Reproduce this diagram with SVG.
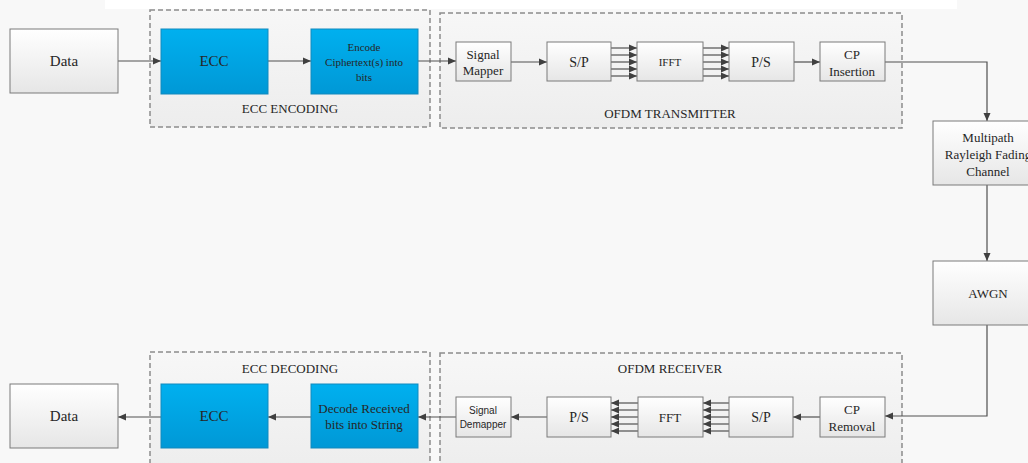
<svg xmlns="http://www.w3.org/2000/svg" width="1028" height="463" viewBox="0 0 1028 463">
<defs>
<linearGradient id="gw" x1="0" y1="0" x2="0" y2="1"><stop offset="0" stop-color="#ffffff"/><stop offset="1" stop-color="#e6e6e6"/></linearGradient>
<linearGradient id="gb" x1="0" y1="0" x2="0" y2="1"><stop offset="0" stop-color="#00b0ef"/><stop offset="1" stop-color="#0098d6"/></linearGradient>
<linearGradient id="gg" x1="0" y1="0" x2="0" y2="1"><stop offset="0" stop-color="#f7f7f7"/><stop offset="1" stop-color="#ededed"/></linearGradient>
<marker id="ah" viewBox="0 0 8 8" refX="8" refY="4" markerWidth="8" markerHeight="8" markerUnits="userSpaceOnUse" orient="auto"><path d="M0,0.5 L8,4 L0,7.5 Z" fill="#404040"/></marker>
</defs>
<style>
.box{fill:url(#gw);stroke:#7a7a7a;stroke-width:1}
.blue{fill:url(#gb);stroke:#1289bd;stroke-width:1}
.grp{fill:url(#gg);stroke:#8c8c8c;stroke-width:1.5;stroke-dasharray:5 3}
.arr{fill:none;stroke:#505050;stroke-width:1.2;marker-end:url(#ah)}
text{font-family:"Liberation Serif","Times New Roman",serif;fill:#262626;text-anchor:middle;dominant-baseline:central}
.t15{font-size:15px}
.t14{font-size:14px}
.t13{font-size:13px}
.t11{font-size:11px}
.sans{font-family:"Liberation Sans",Arial,sans-serif;font-size:10px}
</style>
<rect x="0" y="0" width="1028" height="463" fill="#f8f8f8"/>
<rect x="105" y="0" width="852" height="9" fill="#ffffff"/>

<g id="grp-ecc-encoding">
<rect class="grp" x="150" y="10" width="280" height="117"/>
<text class="t13" x="290" y="108">ECC ENCODING</text>
</g>
<g id="grp-ofdm-tx">
<rect class="grp" x="440" y="13" width="462" height="115"/>
<text class="t13" x="670" y="113">OFDM TRANSMITTER</text>
</g>
<g id="grp-ecc-decoding">
<rect class="grp" x="150" y="352" width="280" height="120"/>
<text class="t13" x="290" y="368">ECC DECODING</text>
</g>
<g id="grp-ofdm-rx">
<rect class="grp" x="440" y="353" width="462" height="120"/>
<text class="t13" x="670" y="368">OFDM RECEIVER</text>
</g>

<g id="connectors">
<line class="arr" x1="118" y1="61" x2="161" y2="61"/>
<line class="arr" x1="268" y1="61" x2="311" y2="61"/>
<line class="arr" x1="418" y1="61" x2="456" y2="61"/>
<line class="arr" x1="511" y1="62" x2="547" y2="62"/>
<line class="arr" x1="611" y1="48" x2="637" y2="48"/>
<line class="arr" x1="611" y1="55" x2="637" y2="55"/>
<line class="arr" x1="611" y1="62" x2="637" y2="62"/>
<line class="arr" x1="611" y1="69" x2="637" y2="69"/>
<line class="arr" x1="611" y1="76" x2="637" y2="76"/>
<line class="arr" x1="703" y1="48" x2="729" y2="48"/>
<line class="arr" x1="703" y1="55" x2="729" y2="55"/>
<line class="arr" x1="703" y1="62" x2="729" y2="62"/>
<line class="arr" x1="703" y1="69" x2="729" y2="69"/>
<line class="arr" x1="703" y1="76" x2="729" y2="76"/>
<line class="arr" x1="794" y1="62" x2="820" y2="62"/>
<polyline class="arr" points="885,62 987,62 987,121"/>
<line class="arr" x1="987" y1="185" x2="987" y2="261"/>
<polyline class="arr" points="987,325 987,416 885,416"/>
<line class="arr" x1="820" y1="417" x2="793" y2="417"/>
<line class="arr" x1="729" y1="403" x2="703" y2="403"/>
<line class="arr" x1="729" y1="410" x2="703" y2="410"/>
<line class="arr" x1="729" y1="417" x2="703" y2="417"/>
<line class="arr" x1="729" y1="424" x2="703" y2="424"/>
<line class="arr" x1="729" y1="431" x2="703" y2="431"/>
<line class="arr" x1="638" y1="403" x2="611" y2="403"/>
<line class="arr" x1="638" y1="410" x2="611" y2="410"/>
<line class="arr" x1="638" y1="417" x2="611" y2="417"/>
<line class="arr" x1="638" y1="424" x2="611" y2="424"/>
<line class="arr" x1="638" y1="431" x2="611" y2="431"/>
<line class="arr" x1="547" y1="417" x2="511" y2="417"/>
<line class="arr" x1="456" y1="417" x2="418" y2="417"/>
<line class="arr" x1="311" y1="417" x2="268" y2="417"/>
<line class="arr" x1="161" y1="417" x2="118" y2="417"/>
</g>

<g id="data-in"><rect class="box" x="10" y="29" width="108" height="64"/><text class="t15" x="64" y="61">Data</text></g>
<g id="ecc-enc"><rect class="blue" x="161" y="29" width="107" height="65"/><text class="t15" x="214" y="61">ECC</text></g>
<g id="encode"><rect class="blue" x="311" y="29" width="107" height="65"/>
<text class="t11" x="364" y="47">Encode</text><text class="t11" x="364" y="62">Ciphertext(s) into</text><text class="t11" x="364" y="77">bits</text></g>
<g id="signal-mapper"><rect class="box" x="456" y="42" width="55" height="39"/><text class="t13" x="483" y="54">Signal</text><text class="t13" x="483" y="70">Mapper</text></g>
<g id="sp-tx"><rect class="box" x="547" y="42" width="64" height="39"/><text class="t14" x="579" y="62">S/P</text></g>
<g id="ifft"><rect class="box" x="637" y="42" width="66" height="39"/><text class="t11" x="670" y="62">IFFT</text></g>
<g id="ps-tx"><rect class="box" x="729" y="42" width="65" height="39"/><text class="t14" x="761" y="62">P/S</text></g>
<g id="cp-insertion"><rect class="box" x="820" y="42" width="65" height="39"/><text class="t13" x="852" y="54">CP</text><text class="t13" x="852" y="71">Insertion</text></g>
<g id="channel"><rect class="box" x="933" y="121" width="110" height="64"/>
<text class="t13" x="988" y="137">Multipath</text><text class="t13" x="988" y="154">Rayleigh Fading</text><text class="t13" x="988" y="171">Channel</text></g>
<g id="awgn"><rect class="box" x="933" y="261" width="110" height="64"/><text class="t13" x="988" y="293">AWGN</text></g>
<g id="cp-removal"><rect class="box" x="820" y="397" width="65" height="40"/><text class="t13" x="852" y="409">CP</text><text class="t13" x="852" y="426">Removal</text></g>
<g id="sp-rx"><rect class="box" x="729" y="397" width="64" height="40"/><text class="t14" x="761" y="417">S/P</text></g>
<g id="fft"><rect class="box" x="638" y="397" width="65" height="40"/><text class="t13" x="670" y="417">FFT</text></g>
<g id="ps-rx"><rect class="box" x="547" y="397" width="64" height="40"/><text class="t14" x="579" y="417">P/S</text></g>
<g id="signal-demapper"><rect class="box" x="456" y="397" width="55" height="40"/><text class="sans" x="483" y="410">Signal</text><text class="sans" x="483" y="424">Demapper</text></g>
<g id="decode"><rect class="blue" x="311" y="384" width="107" height="64"/><text class="t13" x="364" y="408">Decode Received</text><text class="t13" x="364" y="424">bits into String</text></g>
<g id="ecc-dec"><rect class="blue" x="161" y="384" width="107" height="64"/><text class="t15" x="214" y="416">ECC</text></g>
<g id="data-out"><rect class="box" x="10" y="384" width="108" height="64"/><text class="t15" x="64" y="416">Data</text></g>
</svg>
